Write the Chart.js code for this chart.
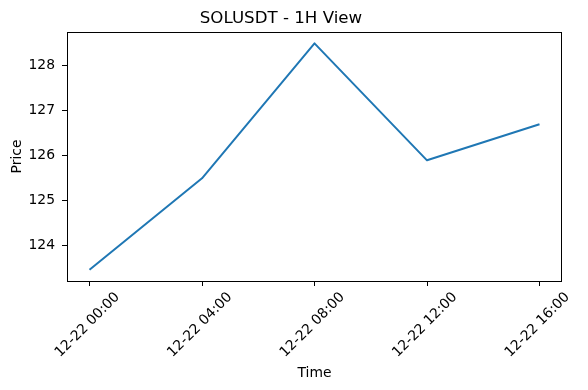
<!DOCTYPE html>
<html>
<head>
<meta charset="utf-8">
<script src="https://cdn.jsdelivr.net/npm/chart.js@4.4.1/dist/chart.umd.min.js"></script>
<style>
  html, body { margin: 0; padding: 0; background: #fff; }
  #wrap { width: 588px; height: 390px; }
</style>
</head>
<body>
<div id="wrap"><canvas id="priceChart"></canvas></div>
<script>
// data
const times = ['12-22 00:00', '12-22 04:00', '12-22 08:00', '12-22 12:00', '12-22 16:00'];
const prices = [123.47, 125.5, 128.5, 125.9, 126.7];
const priceTicks = [124, 125, 126, 127, 128];
const chartTitle = 'SOLUSDT - 1H View';

// matplotlib style 5% margins
const lo = Math.min(...prices), hi = Math.max(...prices);
const span = hi - lo;
const xPad = (times.length - 1) * 0.05;

const points = prices.map((p, i) => ({ x: i, y: p }));

Chart.defaults.font.family = '"DejaVu Sans", sans-serif';
Chart.defaults.color = '#000';

// full box around the plot like matplotlib spines
const frame = {
    id: 'frame',
    afterDraw(chart) {
        const { ctx, chartArea: a } = chart;
        ctx.save();
        ctx.strokeStyle = '#000';
        ctx.lineWidth = 1;
        ctx.strokeRect(a.left + 0.5, a.top + 0.5, a.right - a.left - 1, a.bottom - a.top);
        ctx.restore();
    }
};

new Chart(document.getElementById('priceChart'), {
    type: 'line',
    data: {
        datasets: [{
            data: points,
            borderColor: '#1f77b4',
            borderWidth: 2,
            borderJoinStyle: 'round',
            borderCapStyle: 'butt',
            pointRadius: 0,
            tension: 0,
            fill: false
        }]
    },
    options: {
        responsive: true,
        maintainAspectRatio: false,
        animation: false,
        devicePixelRatio: 1,
        layout: { padding: { left: 0, right: 26, top: 0, bottom: 0 } },
        plugins: {
            legend: { display: false },
            tooltip: { enabled: false },
            title: {
                display: true,
                text: chartTitle,
                color: '#000',
                font: { size: 16.67, weight: 'normal', lineHeight: 1.2 },
                padding: { top: 8.5, bottom: 3.5 }
            }
        },
        scales: {
            x: {
                type: 'linear',
                min: -xPad,
                max: times.length - 1 + xPad,
                afterBuildTicks(scale) {
                    scale.ticks = times.map((t, i) => ({ value: i }));
                },
                afterFit(scale) {
                    scale.height = 109;
                },
                ticks: {
                    autoSkip: false,
                    minRotation: 45,
                    maxRotation: 45,
                    labelOffset: 28,
                    padding: 3,
                    color: '#000',
                    font: { size: 13.9 },
                    callback: (v) => times[v]
                },
                grid: {
                    drawOnChartArea: false,
                    drawTicks: true,
                    tickLength: 5,
                    color: '#000',
                    lineWidth: 1
                },
                border: { display: false },
                title: {
                    display: true,
                    text: 'Time',
                    color: '#000',
                    font: { size: 13.9, lineHeight: 1.2 },
                    padding: { top: 0, bottom: 8.5 }
                }
            },
            y: {
                type: 'linear',
                min: lo - span * 0.05,
                max: hi + span * 0.05,
                afterBuildTicks(scale) {
                    scale.ticks = priceTicks.map(v => ({ value: v }));
                },
                afterFit(scale) {
                    scale.width = 67;
                },
                ticks: {
                    padding: 7,
                    color: '#000',
                    font: { size: 13.9 },
                    callback: (v) => String(v)
                },
                grid: {
                    drawOnChartArea: false,
                    drawTicks: true,
                    tickLength: 5,
                    color: '#000',
                    lineWidth: 1
                },
                border: { display: false },
                title: {
                    display: true,
                    text: 'Price',
                    color: '#000',
                    font: { size: 13.9, lineHeight: 1.2 },
                    padding: { top: 8.6, bottom: 0 }
                }
            }
        }
    },
    plugins: [frame]
});
</script>
</body>
</html>
